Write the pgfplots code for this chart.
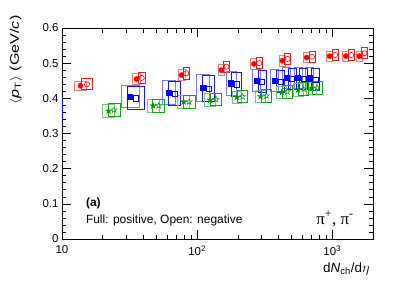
\documentclass[border=0pt]{standalone}
\usepackage{graphicx}
\usepackage{pgfplots}
\pgfplotsset{compat=1.18}
\usepackage{pgfplotstable}
\usepackage{fontspec}
\setmainfont{Liberation Sans}
\newfontfamily\seriffont{Liberation Serif}
\definecolor{rgreen}{RGB}{0,150,0}
\definecolor{redL}{RGB}{255,120,120}
\definecolor{redD}{RGB}{255,20,20}
\definecolor{blueL}{RGB}{120,120,255}
\definecolor{blueD}{RGB}{20,20,255}
\definecolor{greenL}{RGB}{120,200,120}
\definecolor{greenD}{RGB}{20,160,20}
\pgfdeclareplotmark{nothing}{}
\def\starpath{%
  \pgfpathmoveto{\pgfpoint{0pt}{\pgfplotmarksize}}%
  \pgfpathlineto{\pgfpoint{-0.2245*\pgfplotmarksize}{0.309*\pgfplotmarksize}}%
  \pgfpathlineto{\pgfpoint{-0.9511*\pgfplotmarksize}{0.309*\pgfplotmarksize}}%
  \pgfpathlineto{\pgfpoint{-0.3633*\pgfplotmarksize}{-0.118*\pgfplotmarksize}}%
  \pgfpathlineto{\pgfpoint{-0.5878*\pgfplotmarksize}{-0.809*\pgfplotmarksize}}%
  \pgfpathlineto{\pgfpoint{0pt}{-0.382*\pgfplotmarksize}}%
  \pgfpathlineto{\pgfpoint{0.5878*\pgfplotmarksize}{-0.809*\pgfplotmarksize}}%
  \pgfpathlineto{\pgfpoint{0.3633*\pgfplotmarksize}{-0.118*\pgfplotmarksize}}%
  \pgfpathlineto{\pgfpoint{0.9511*\pgfplotmarksize}{0.309*\pgfplotmarksize}}%
  \pgfpathlineto{\pgfpoint{0.2245*\pgfplotmarksize}{0.309*\pgfplotmarksize}}%
  \pgfpathclose}
\pgfdeclareplotmark{fstar}{\starpath\pgfusepathqfillstroke}
\pgfdeclareplotmark{ostar}{\starpath\pgfusepathqstroke}

\pgfplotstableread{
x y ey bw
13.7 0.436 0.013 6
35.6 0.455 0.016 4
76.7 0.466 0.015 3.5
151 0.480 0.015 3
263 0.498 0.015 3
427 0.507 0.015 3
645 0.516 0.015 3
955 0.520 0.014 3
1260 0.520 0.014 3
1585 0.520 0.014 3
}\redpos
\pgfplotstableread{
x y ey bw
15.3 0.440 0.016 5.5
38.9 0.458 0.017 3.5
83 0.471 0.016 3
165 0.490 0.016 3
288 0.500 0.016 3
468 0.512 0.016 3
707 0.518 0.016 3
1050 0.523 0.016 3
1380 0.523 0.016 3
1730 0.528 0.016 3
}\redneg
\pgfplotstableread{
x y ey bw
31.9 0.405 0.032 9
61.7 0.417 0.034 6.5
110.7 0.430 0.038 6.5
178 0.443 0.035 5
275 0.450 0.031 4
376 0.450 0.031 4
457 0.458 0.031 4
558 0.458 0.031 4
681 0.457 0.031 4
}\bluepos
\pgfplotstableread{
x y ey bw
35.1 0.400 0.033 8.5
67.9 0.413 0.034 6
121.8 0.427 0.037 6
196 0.440 0.035 5
302 0.447 0.031 4
414 0.447 0.031 4
503 0.455 0.031 4
614 0.455 0.031 4
749 0.453 0.031 4
}\blueneg
\pgfplotstableread{
x y ey bw
22.1 0.364 0.018 6
47.2 0.379 0.018 6
79.4 0.390 0.018 6
125 0.395 0.018 5.5
197 0.403 0.018 5
295 0.405 0.018 5
422 0.417 0.018 5
558 0.424 0.018 5
700 0.428 0.018 5
}\greenpos
\pgfplotstableread{
x y ey bw
24.3 0.367 0.018 6
51.9 0.379 0.018 6
87.3 0.390 0.018 6
137.5 0.397 0.018 5.5
217 0.405 0.018 5
325 0.407 0.018 5
464 0.419 0.018 5
614 0.426 0.018 5
770 0.430 0.018 5
}\greenneg

\pgfplotsset{
  sysboxes/.style 2 args={only marks, scatter, mark=nothing,
    visualization depends on={\thisrow{bw} \as \bw},
    visualization depends on={351.7*\thisrow{ey} \as \bh},
    scatter/@pre marker code/.code={%
      \pgfscope
      \pgfsetstrokecolor{#1}%
      \pgfsetlinewidth{#2pt}%
      \pgfpathrectanglecorners{\pgfpoint{-\bw pt}{-\bh pt}}{\pgfpoint{\bw pt}{\bh pt}}%
      \pgfusepathqstroke
      \endpgfscope},
    scatter/@post marker code/.code={}},
}

\begin{document}
\begin{tikzpicture}
\useasboundingbox (-62bp,-42bp) rectangle (353bp,239bp);
\begin{axis}[
  at={(0,0)}, anchor=south west,
  scale only axis, width=311bp, height=211bp,
  xmode=log, xmin=10, xmax=2000, ymin=0, ymax=0.6,
  xtick={10,100,1000},
  xticklabels={10,10\textsuperscript{2},10\textsuperscript{3}},
  minor xtick={20,30,40,50,60,70,80,90,200,300,400,500,600,700,800,900,2000},
  ytick={0,0.1,0.2,0.3,0.4,0.5,0.6},
  yticklabels={0,0.1,0.2,0.3,0.4,0.5,0.6},
  minor y tick num=4,
  tick align=inside,
  major tick length=9bp, minor tick length=4.5bp,
  axis line style={line width=0.7pt},
  every tick/.style={line width=0.6pt, black},
  tick label style={font=\fontsize{11.5}{13}\selectfont},
  xticklabel style={yshift=-3bp},
  clip=false,
  xlabel={d\textit{N}\textsubscript{ch}/d$\eta$},
  xlabel style={at={(rel axis cs:1,0)}, anchor=east, yshift=-30bp, font=\fontsize{13.5}{15}\selectfont},
  ylabel={\scalebox{1.3}[1]{$\langle$\textit{p}\textsubscript{T}$\rangle$ (GeV/\textit{c})}},
  ylabel style={at={(rel axis cs:-0.148,0.848)}, anchor=center, rotate=0, font=\fontsize{12.5}{14}\selectfont},
]
% systematic boxes
\addplot[sysboxes={redL}{0.9}] table[x=x,y=y] {\redpos};
\addplot[sysboxes={redD}{0.9}] table[x=x,y=y] {\redneg};
\addplot[sysboxes={blueL}{0.9}] table[x=x,y=y] {\bluepos};
\addplot[sysboxes={blueD}{0.9}] table[x=x,y=y] {\blueneg};
\addplot[sysboxes={greenL}{0.9}] table[x=x,y=y] {\greenpos};
\addplot[sysboxes={greenD}{0.9}] table[x=x,y=y] {\greenneg};
% markers
\addplot[only marks, mark=*, mark size=2.6bp, color=red, mark options={fill=red}] table[x=x,y=y] {\redpos};
\addplot[only marks, mark=o, mark size=2.6bp, color=red, mark options={line width=0.6pt}] table[x=x,y=y] {\redneg};
\addplot[only marks, mark=square*, mark size=2.6bp, color=blue, mark options={fill=blue}] table[x=x,y=y] {\bluepos};
\addplot[only marks, mark=square, mark size=2.6bp, color=blue, mark options={line width=0.6pt}] table[x=x,y=y] {\blueneg};
\addplot[only marks, mark=fstar, mark size=3.2bp, color=rgreen, mark options={fill=rgreen, line width=0.3pt}] table[x=x,y=y] {\greenpos};
\addplot[only marks, mark=ostar, mark size=3.2bp, color=rgreen, mark options={line width=0.5pt}] table[x=x,y=y] {\greenneg};
% segment on the left axis
\addplot[blue, line width=1pt] coordinates {(10,0.341) (10,0.404)};
\node[anchor=west, font=\bfseries\fontsize{12}{14}\selectfont] at (rel axis cs:0.066,0.17) {(a)};
\node[anchor=west, font=\fontsize{12}{14}\selectfont] at (rel axis cs:0.066,0.087) {Full: positive, Open: negative};
\node[anchor=east, font=\seriffont\fontsize{17}{19}\selectfont] at (rel axis cs:0.949,0.095) {π\textsuperscript{+}, π\textsuperscript{-}};
\end{axis}
\end{tikzpicture}
\end{document}
